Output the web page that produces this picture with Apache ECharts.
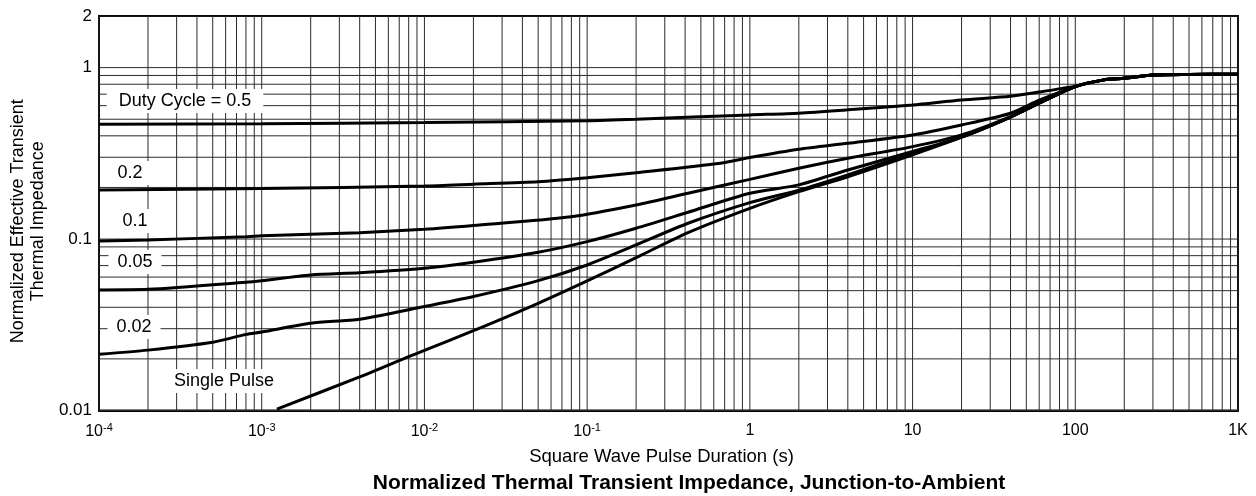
<!DOCTYPE html>
<html>
<head>
<meta charset="utf-8">
<title>Normalized Thermal Transient Impedance, Junction-to-Ambient</title>
<script src="https://cdn.jsdelivr.net/npm/echarts@6/dist/echarts.min.js"></script>
<style>
  html, body { margin: 0; padding: 0; background: #fff; }
  #chart { width: 1256px; height: 496px; }
</style>
</head>
<body>
<div id="chart"></div>
<script>
// Axis ticks and their labels
const xTickValues = [1e-4, 1e-3, 1e-2, 1e-1, 1, 10, 100, 1000];
const xTickLabels = ['10{sup|-4}', '10{sup|-3}', '10{sup|-2}', '10{sup|-1}', '1', '10', '100', '1K'];
const yTickValues = [0.01, 0.1, 1, 2];
const yTickLabels = ['0.01', '0.1', '1', '2'];

// Curves: [pulse duration (s), normalized Zth]
const dutyHalf = [
  [1e-4, 0.468], [1e-3, 0.470], [1e-2, 0.478], [0.1, 0.490], [0.2, 0.500],
  [1, 0.530], [2, 0.542], [4, 0.567], [10, 0.606], [20, 0.648], [40, 0.680],
  [60, 0.720], [100, 0.780], [150, 0.848], [200, 0.867], [300, 0.906], [500, 0.913], [1000, 0.915]
];
const dutyFifth = [
  [1e-4, 0.193], [1e-3, 0.197], [1e-2, 0.204], [2e-2, 0.209], [5e-2, 0.216], [0.1, 0.228],
  [0.2, 0.244], [0.66, 0.277], [1, 0.299], [2, 0.334], [4, 0.362], [10, 0.405], [20, 0.463],
  [40, 0.542], [60, 0.645], [100, 0.775], [150, 0.848], [200, 0.867], [300, 0.906], [500, 0.913], [1000, 0.915]
];
const dutyTenth = [
  [1e-4, 0.0975], [2e-4, 0.0988], [8e-4, 0.1033], [1e-3, 0.1047], [4e-3, 0.109], [1e-2, 0.114],
  [2e-2, 0.120], [8e-2, 0.135], [0.2, 0.158], [0.417, 0.185], [1, 0.223], [2, 0.259], [4, 0.296],
  [10, 0.346], [20, 0.405], [40, 0.518], [60, 0.622], [100, 0.775], [150, 0.848], [200, 0.867],
  [300, 0.906], [500, 0.913], [1000, 0.915]
];
const dutyTwentieth = [
  [1e-4, 0.0505], [2e-4, 0.0509], [8e-4, 0.0560], [1e-3, 0.0572], [2e-3, 0.0618], [4e-3, 0.0637],
  [1e-2, 0.0676], [2e-2, 0.0733], [5e-2, 0.0838], [0.1, 0.0966], [0.2, 0.1156], [0.417, 0.1433],
  [1, 0.185], [2, 0.207], [4, 0.253], [10, 0.324], [20, 0.393], [40, 0.515], [60, 0.620],
  [100, 0.775], [150, 0.848], [200, 0.867], [300, 0.906], [500, 0.913], [1000, 0.915]
];
const dutyFiftieth = [
  [1e-4, 0.0213], [2e-4, 0.0225], [5e-4, 0.0250], [8e-4, 0.0278], [1e-3, 0.0287], [2e-3, 0.0323],
  [4e-3, 0.0341], [1e-2, 0.0404], [2e-2, 0.0462], [5e-2, 0.0572], [0.1, 0.0706], [0.2, 0.0924],
  [0.417, 0.1236], [1, 0.163], [2, 0.193], [4, 0.237], [10, 0.317], [20, 0.393], [40, 0.515],
  [60, 0.620], [100, 0.775], [150, 0.848], [200, 0.867], [300, 0.906], [500, 0.913], [1000, 0.915]
];
const singlePulse = [
  [1.24e-3, 0.0102], [4e-3, 0.0157], [8e-3, 0.0206], [1e-2, 0.0224], [2e-2, 0.0292], [5e-2, 0.0422],
  [0.1, 0.0570], [0.2, 0.0779], [0.417, 0.109], [1, 0.151], [2, 0.189], [4, 0.231], [10, 0.310],
  [20, 0.393], [40, 0.515], [60, 0.620], [100, 0.775], [150, 0.848], [200, 0.867], [300, 0.906],
  [500, 0.913], [1000, 0.915]
];

const curveNames = ['Duty Cycle = 0.5', '0.2', '0.1', '0.05', '0.02', 'Single Pulse'];
const curves = [dutyHalf, dutyFifth, dutyTenth, dutyTwentieth, dutyFiftieth, singlePulse];

// Log grid: every 1..9 multiple inside each decade
function logGrid(minExp, maxExp) {
  const out = [];
  for (let e = minExp; e < maxExp; e++) {
    for (let m = 1; m <= 9; m++) out.push(Number((m * Math.pow(10, e)).toPrecision(6)));
  }
  out.push(Math.pow(10, maxExp));
  return out;
}
const X_MIN = 1e-4, X_MAX = 1000, Y_MIN = 0.01, Y_MAX = 2;
const xGridValues = logGrid(-4, 3);
const yGridValues = logGrid(-2, 0).concat([2]);

const FONT = '"Liberation Sans", Arial, Helvetica, sans-serif';

function nearestIndex(list, v) {
  let best = 0, bestD = Infinity;
  list.forEach((t, i) => {
    const d = Math.abs(Math.log10(t) - Math.log10(v));
    if (d < bestD) { bestD = d; best = i; }
  });
  return best;
}

// Grid lines as broken polylines spanning the plot (gaps between segments)
const vGridData = [];
xGridValues.forEach(v => { vGridData.push([v, Y_MIN], [v, Y_MAX], [v, '-']); });
const hGridData = [];
yGridValues.forEach(v => { hGridData.push([X_MIN, v], [X_MAX, v], ['-', v]); });

const gridLineStyle = { color: '#2b2b2b', width: 1 };
const gridSeries = [vGridData, hGridData].map((d, i) => ({
  type: 'line',
  name: i ? 'hgrid' : 'vgrid',
  data: d,
  silent: true,
  connectNulls: false,
  showSymbol: false,
  symbol: 'none',
  z: 1,
  lineStyle: gridLineStyle,
  emphasis: { disabled: true },
  animation: false
}));

const curveSeries = curves.map((pts, i) => ({
  type: 'line',
  name: curveNames[i],
  data: pts,
  showSymbol: false,
  symbol: 'none',
  smooth: 0.25,
  z: 10,
  lineStyle: { color: '#000', width: 3 },
  emphasis: { disabled: true },
  animation: false
}));

// Curve captions, boxed in white over the grid
const captions = [
  { text: 'Duty Cycle = 0.5', x: 185, y: 101, pad: [3, 12] },
  { text: '0.2', x: 130, y: 173, pad: [3, 8] },
  { text: '0.1', x: 135, y: 221, pad: [3, 9] },
  { text: '0.05', x: 135, y: 262, pad: [3, 9] },
  { text: '0.02', x: 134, y: 327, pad: [3, 9] },
  { text: 'Single Pulse', x: 224, y: 381, pad: [3, 10] }
];

const chart = echarts.init(document.getElementById('chart'), null, { renderer: 'canvas' });
chart.setOption({
  animation: false,
  backgroundColor: '#fff',
  textStyle: { fontFamily: FONT },
  grid: {
    left: 97, right: 18, top: 16, bottom: 85.5,
    show: true, borderColor: '#000', borderWidth: 2, backgroundColor: '#fff'
  },
  xAxis: {
    type: 'log',
    logBase: 10,
    min: X_MIN,
    max: X_MAX,
    name: 'Square Wave Pulse Duration (s)',
    nameLocation: 'middle',
    nameGap: 37,
    nameTextStyle: { fontFamily: FONT, fontSize: 18.5, color: '#000', padding: [0, 14, 0, 0] },
    axisLine: { show: true, lineStyle: { color: '#000', width: 2 } },
    axisTick: { show: false },
    splitLine: { show: false },
    minorSplitLine: { show: false },
    axisLabel: {
      customValues: xTickValues,
      margin: 12,
      color: '#000',
      fontFamily: FONT,
      fontSize: 16,
      formatter: v => xTickLabels[nearestIndex(xTickValues, v)],
      rich: {
        sup: { fontSize: 11, fontFamily: FONT, color: '#000', verticalAlign: 'top', padding: [0, 0, 8, 0] }
      }
    }
  },
  yAxis: {
    type: 'log',
    logBase: 10,
    min: Y_MIN,
    max: Y_MAX,
    name: 'Normalized Effective Transient\nThermal Impedance',
    nameLocation: 'middle',
    nameGap: 51,
    nameTextStyle: { fontFamily: FONT, fontSize: 18, lineHeight: 20, color: '#000', padding: [0, 16, 0, 0] },
    axisLine: { show: true, lineStyle: { color: '#000', width: 2 } },
    axisTick: { show: false },
    splitLine: { show: false },
    minorSplitLine: { show: false },
    axisLabel: {
      customValues: yTickValues,
      margin: 7,
      color: '#000',
      fontFamily: FONT,
      fontSize: 17,
      formatter: v => yTickLabels[nearestIndex(yTickValues, v)]
    }
  },
  series: gridSeries.concat(curveSeries),
  graphic: captions.map(c => ({
    type: 'text',
    x: c.x,
    y: c.y,
    z: 50,
    silent: true,
    style: {
      text: c.text,
      font: '18px ' + FONT,
      fill: '#000',
      align: 'center',
      verticalAlign: 'middle',
      backgroundColor: '#fff',
      padding: c.pad
    }
  })).concat([{
    type: 'text',
    x: 689,
    y: 483,
    z: 50,
    silent: true,
    style: {
      text: 'Normalized Thermal Transient Impedance, Junction-to-Ambient',
      font: 'bold 21px ' + FONT,
      fill: '#000',
      align: 'center',
      verticalAlign: 'middle'
    }
  }])
});
</script>
</body>
</html>
